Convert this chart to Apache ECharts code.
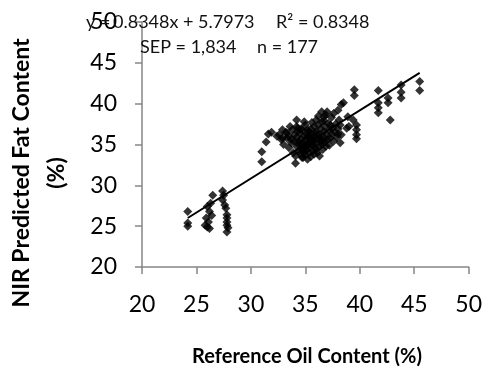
<!DOCTYPE html>
<html>
<head>
<meta charset="utf-8">
<script src="https://cdn.jsdelivr.net/npm/echarts@6/dist/echarts.min.js"></script>
<style>html,body{margin:0;padding:0;background:#fff}#c{width:485px;height:374px}</style>
</head>
<body>
<div id="c"></div>
<script>
// Measured points [reference, predicted]
var leftGroup = [
  [24.2,26.8],[24.2,25.4],[24.2,25.0],
  [26.5,28.8],[26.3,27.8],[26.0,27.4],[26.2,26.8],[25.9,26.0],[26.1,25.5],[25.8,25.1],[26.0,24.9],[26.2,24.7],[26.4,26.3],
  [27.4,29.3],[27.5,28.8],[27.4,28.2],[27.6,27.6],[27.7,27.2],[27.8,26.4],[27.8,26.0],[27.8,25.5],[27.8,25.1],[27.9,24.8],[27.8,24.3]
];
var middleGroup = [
  [31.0,34.1],[31.0,32.9],[31.4,35.3],[31.6,36.3],[31.9,36.5],[32.4,36.0],[32.9,36.8],[32.9,35.8],[33.3,36.4],[33.7,35.6],
  [34.1,32.7],[34.7,33.4],[34.2,38.0],[34.2,37.2]
];
var clusterGroup = [
  [32.6,36.2],[32.8,35.6],[33.0,35.0],[33.2,36.5],[33.3,35.8],[33.5,34.6],[33.5,36.0],[33.7,35.2],[33.8,36.8],[33.9,34.0],
  [34.0,35.4],[34.0,36.2],[34.1,33.6],[34.2,34.8],[34.2,35.9],[34.3,37.0],[34.4,34.2],[34.4,35.4],[34.5,36.4],[34.5,33.9],[34.6,35.0],[34.6,35.7],
  [34.7,34.5],[34.7,36.8],[34.8,33.4],[34.8,35.2],[34.9,34.0],[34.9,36.0],[35.0,34.7],[35.0,35.5],[35.0,37.4],[35.0,33.7],[35.1,36.3],[35.1,34.3],[35.2,35.1],[35.2,35.9],[35.2,33.2],
  [35.3,34.6],[35.3,36.6],[35.4,35.3],[35.4,34.0],[35.5,35.8],[35.5,36.9],[35.5,33.5],[35.6,34.9],[35.6,36.3],[35.7,35.4],[35.7,34.2],[35.8,37.2],[35.8,35.9],[35.8,33.8],
  [35.9,34.6],[36.0,35.2],[36.0,36.6],[36.0,38.0],[36.1,34.0],[36.1,35.7],[36.2,36.2],[36.2,37.4],[36.3,34.8],[36.3,33.6],[36.4,35.4],[36.4,36.9],
  [36.5,35.0],[36.5,37.8],[36.6,36.0],[36.6,34.4],[36.7,36.6],[36.8,35.3],[36.8,37.2],[36.9,38.6],[36.9,34.8],[37.0,36.1],[37.0,35.6],
  [37.1,37.6],[37.2,36.8],[37.2,34.9],[37.3,35.8],[37.4,38.3],[37.4,36.3],[37.5,37.0],[37.6,35.4],[37.6,38.8],
  [37.7,36.5],[37.8,37.5],[37.9,35.9],[38.0,36.9],[38.1,38.0],[38.2,37.4],[38.3,36.2],
  [34.3,36.6],[35.6,37.7],[36.2,38.5],[34.9,37.8],[35.3,35.0],[35.9,36.4],[36.7,37.9],[37.0,39.0],
  [34.6,36.9],[35.4,36.0],[35.1,34.9],[36.3,35.9],[34.8,34.4],[35.7,35.1],[36.6,35.5],[35.2,36.8],[34.4,35.0],[36.0,34.4],[37.3,37.4],[33.6,37.2]
];
var rightGroup = [
  [36.5,39.0],[36.7,38.4],[38.0,39.2],[38.3,39.9],[38.5,40.1],[39.5,41.7],[39.5,41.0],[39.7,37.4],[39.7,36.8],[39.7,36.2],[39.7,35.7],
  [39.0,37.2],[38.2,35.2],[41.7,41.6],[41.7,40.1],[41.7,39.5],[41.7,38.9],[42.6,40.7],[42.6,40.1],[42.8,38.0],
  [43.8,42.3],[43.8,41.4],[43.8,40.7],[45.5,42.7],[45.5,41.6],[38.8,37.0],[38.0,36.3],[38.9,38.4],[39.4,38.0]
];
var slope = 0.8348, intercept = 5.7973;
var trendX = [24.2, 45.5];
var xTicks = [20, 25, 30, 35, 40, 45, 50];
var yTicks = [20, 25, 30, 35, 40, 45, 50];

var points = leftGroup.concat(middleGroup, clusterGroup, rightGroup);
var trend = trendX.map(function (x) { return [x, slope * x + intercept]; });

var chart = echarts.init(document.getElementById('c'), null, {renderer: 'canvas'});
var axisCommon = {
  type: 'value', min: xTicks[0], max: xTicks[xTicks.length - 1], interval: 5,
  axisLine: {show: true, onZero: false, lineStyle: {color: '#868686', width: 1.5}},
  axisTick: {show: true, length: 7, lineStyle: {color: '#868686', width: 1.5}},
  splitLine: {show: false},
  axisLabel: {color: '#000', fontSize: 23, fontFamily: 'Lato'}
};
var annFont = '18px Lato';
chart.setOption({
  animation: false,
  backgroundColor: '#fff',
  grid: {left: 142, right: 14, top: 22, bottom: 107},
  xAxis: Object.assign({}, axisCommon, {axisLabel: Object.assign({}, axisCommon.axisLabel, {margin: 26})}),
  yAxis: Object.assign({}, axisCommon, {min: yTicks[0], max: yTicks[yTicks.length - 1],
    axisLabel: Object.assign({}, axisCommon.axisLabel, {margin: 25})}),
  series: [
    {type: 'scatter', data: points, symbol: 'diamond', symbolSize: 9, itemStyle: {color: '#000'}, z: 3},
    {type: 'line', data: trend, symbol: 'none', lineStyle: {color: '#000', width: 2}, z: 4}
  ],
  graphic: [
    {type: 'text', x: 86, y: 22, z: 10, style: {text: 'y =', fill: '#111', font: annFont, verticalAlign: 'middle'}},
    {type: 'text', x: 113, y: 22, z: 10, style: {text: '0.8348x + 5.7973', fill: '#111', font: annFont, verticalAlign: 'middle'}},
    {type: 'text', x: 276, y: 22, z: 10, style: {text: 'R\u00b2 = 0.8348', fill: '#111', font: annFont, verticalAlign: 'middle'}},
    {type: 'text', x: 140, y: 47, z: 10, style: {text: 'SEP = 1,834', fill: '#111', font: annFont, verticalAlign: 'middle'}},
    {type: 'text', x: 257, y: 47, z: 10, style: {text: 'n = 177', fill: '#111', font: annFont, verticalAlign: 'middle'}},
    {type: 'text', x: 307, y: 357, z: 10, style: {text: 'Reference Oil Content (%)', fill: '#000', font: 'bold 20px Lato', align: 'center', verticalAlign: 'middle'}},
    {type: 'text', x: 39, y: 173, rotation: Math.PI / 2, z: 10, style: {text: 'NIR Predicted Fat Content\n(%)', fill: '#000', font: 'bold 23px Lato', align: 'center', verticalAlign: 'middle', lineHeight: 35}}
  ]
});
</script>
</body>
</html>
